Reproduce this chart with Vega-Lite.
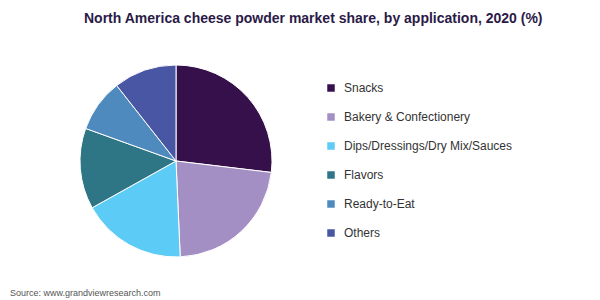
{
  "$schema": "https://vega.github.io/schema/vega-lite/v6.json",
  "padding": {"left": 10, "top": 12, "right": 0, "bottom": 0},
  "title": {
    "text": "North America cheese powder market share, by application, 2020 (%)",
    "anchor": "start",
    "dx": 74,
    "offset": 37,
    "font": "Liberation Sans",
    "fontSize": 14,
    "fontWeight": "bold",
    "color": "#2b1a47"
  },
  "config": {"view": {"stroke": null}, "concat": {"spacing": 0}},
  "data": {
    "values": [
      {"application": "Snacks", "share": 26.9, "idx": 1},
      {"application": "Bakery & Confectionery", "share": 22.4, "idx": 2},
      {"application": "Dips/Dressings/Dry Mix/Sauces", "share": 17.6, "idx": 3},
      {"application": "Flavors", "share": 13.6, "idx": 4},
      {"application": "Ready-to-Eat", "share": 8.9, "idx": 5},
      {"application": "Others", "share": 10.6, "idx": 6}
    ]
  },
  "vconcat": [
    {
      "width": 192,
      "height": 192,
      "title": {
        "text": "Source: www.grandviewresearch.com",
        "orient": "bottom",
        "anchor": "start",
        "dx": -68,
        "offset": 30,
        "font": "Liberation Sans",
        "fontSize": 9,
        "fontWeight": "normal",
        "color": "#555555"
      },
      "mark": {"type": "arc", "stroke": "#ffffff", "strokeWidth": 1},
      "encoding": {
        "theta": {"field": "share", "type": "quantitative", "stack": true},
        "order": {"field": "idx", "type": "quantitative"},
        "color": {
          "field": "application",
          "type": "nominal",
          "scale": {
            "domain": ["Snacks", "Bakery & Confectionery", "Dips/Dressings/Dry Mix/Sauces", "Flavors", "Ready-to-Eat", "Others"],
            "range": ["#35104a", "#a48fc4", "#5ccbf5", "#2e7585", "#4e8abe", "#4856a3"]
          },
          "legend": {
            "title": null,
            "orient": "none",
            "legendX": 245,
            "legendY": 17,
            "symbolType": "square",
            "symbolSize": 56,
            "symbolStrokeWidth": 0,
            "labelFont": "Liberation Sans",
            "labelFontSize": 12,
            "labelColor": "#333333",
            "labelOffset": 7,
            "labelLimit": 300,
            "rowPadding": 17
          }
        }
      }
    }
  ]
}
